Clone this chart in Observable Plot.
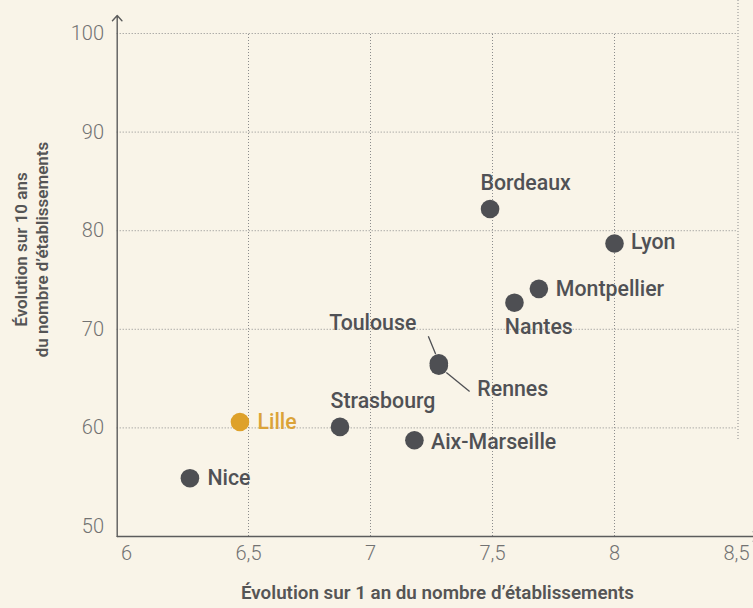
<!DOCTYPE html>
<html><head><meta charset="utf-8">
<script src="https://cdn.jsdelivr.net/npm/d3@7"></script>
<script src="https://cdn.jsdelivr.net/npm/@observablehq/plot@0.6"></script>
<style>
html,body{margin:0;padding:0;background:#f9f4e8;}
#chart svg{display:block;}
</style></head><body><div id="chart"></div>
<script>
// ---- data ----
const cities    = ["Nice", "Lille", "Strasbourg", "Aix-Marseille", "Toulouse", "Rennes", "Bordeaux", "Nantes", "Montpellier", "Lyon"];
const evol1an   = [6.26, 6.465, 6.875, 7.18, 7.28, 7.28, 7.49, 7.59, 7.69, 8.0];
const evol10ans = [54.9, 60.6, 60.1, 58.75, 66.55, 66.3, 82.2, 72.7, 74.1, 78.7];
const highlighted = ["Lille"];
const xTicks = [6, 6.5, 7, 7.5, 8, 8.5];
const yTicks = [50, 60, 70, 80, 90, 100];
const xGrid = [6.5, 7, 7.5, 8];
const yGrid = [60, 70, 80, 90, 100];
const xTitle = "Évolution sur 1 an du nombre d’établissements";
const yTitleLines = ["Évolution sur 10 ans", "du nombre d’établissements"];

// ---- layout ----
const W = 753, H = 608;
const xDomain = [6, 8.5], xRange = [126, 736];
const yDomain = [50, 100], yRange = [526, 33];
const X = d3.scaleLinear(xDomain, xRange), Y = d3.scaleLinear(yDomain, yRange);
const axisX0 = X.invert(116.7), axisY0 = Y.invert(536);
const gridRight = X.invert(737.5);

const labelLayout = {
  "Nice":          {anchor: "start", dx: 17.5, dy: 0},
  "Lille":         {anchor: "start", dx: 17.5, dy: 0},
  "Strasbourg":    {anchor: "start", dx: -9.5, dy: -26},
  "Aix-Marseille": {anchor: "start", dx: 16.6, dy: 1.7},
  "Toulouse":      {anchor: "end",   dx: -22.5, dy: -40.3},
  "Rennes":        {anchor: "start", dx: 38.5, dy: 23.6},
  "Bordeaux":      {anchor: "start", dx: -9.6, dy: -26},
  "Nantes":        {anchor: "start", dx: -9.6, dy: 24.6},
  "Montpellier":   {anchor: "start", dx: 17, dy: 0},
  "Lyon":          {anchor: "start", dx: 16.6, dy: -1.7}
};
const leaders = {
  "Toulouse": [-10.5, -27, -3.2, -9.3],
  "Rennes":   [7.5, 6.6, 30.8, 25.6]
};

const data = cities.map((c, i) => ({city: c, x: evol1an[i], y: evol10ans[i]}));
const leaderData = data.filter(d => leaders[d.city]).map(d => {
  const [a, b, c, e] = leaders[d.city];
  return {x1: X.invert(X(d.x) + a), y1: Y.invert(Y(d.y) + b), x2: X.invert(X(d.x) + c), y2: Y.invert(Y(d.y) + e)};
});

const GRAY = "#4e4f53", GOLD = "#dea12a", TXT = "#505155", TICK = "#727272", GRID = "#8c8c8c";
const fmt = d => String(d).replace(".", ",");

const labelMarks = data.map(d => {
  const L = labelLayout[d.city];
  const hi = highlighted.includes(d.city);
  return Plot.text([d], {x: "x", y: "y", text: "city", textAnchor: L.anchor, dx: L.dx, dy: L.dy,
    fill: hi ? "#dba338" : TXT, fontSize: 21.3, fontWeight: 500});
});

const chart = Plot.plot({
  width: W, height: H,
  marginTop: 0, marginRight: 0, marginBottom: 0, marginLeft: 0,
  x: {domain: xDomain, range: xRange, axis: null},
  y: {domain: yDomain, range: yRange, axis: null},
  style: {fontFamily: "Roboto, 'Noto Sans', sans-serif", background: "#f9f4e8", overflow: "visible"},
  marks: [
    Plot.ruleY(yGrid, {y: d => d, x1: axisX0, x2: gridRight, stroke: GRID, strokeDasharray: "1,2", strokeWidth: 1}),
    Plot.ruleX(xGrid, {x: d => d, y1: axisY0, y2: 100, stroke: GRID, strokeDasharray: "1,2", strokeWidth: 1}),
    Plot.ruleX([8.5], {x: gridRight, y1: Y.invert(439), y2: Y.invert(0), stroke: GRID, strokeDasharray: "1,2", strokeWidth: 1}),
    Plot.arrow([0], {x1: axisX0, y1: axisY0, x2: axisX0, y2: Y.invert(15), stroke: "#5c5c5c", strokeWidth: 1.4, headLength: 7.5, headAngle: 85}),
    Plot.arrow([0], {x1: axisX0, y1: axisY0, x2: X.invert(758), y2: axisY0, stroke: "#5c5c5c", strokeWidth: 1.4, headLength: 7.5, headAngle: 85}),
    Plot.text(xTicks, {x: d => d, frameAnchor: "bottom", dy: -49, text: fmt, fill: TICK, fontSize: 20, fontWeight: 300}),
    Plot.text(yTicks, {y: d => d, frameAnchor: "left", dx: 103.5, textAnchor: "end", text: fmt, fill: TICK, fontSize: 20, fontWeight: 300}),
    Plot.link(leaderData, {x1: "x1", y1: "y1", x2: "x2", y2: "y2", stroke: GRAY, strokeWidth: 1.3}),
    Plot.dot(data.filter(d => !highlighted.includes(d.city)), {x: "x", y: "y", r: 9.3, fill: GRAY, stroke: null}),
    Plot.dot(data.filter(d => highlighted.includes(d.city)), {x: "x", y: "y", r: 9.3, fill: GOLD, stroke: null}),
    ...labelMarks,
    Plot.text([xTitle], {frameAnchor: "bottom", dx: 60.5, dy: -9.5, textAnchor: "middle", fill: "#555", fontSize: 18.8, fontWeight: 600}),
    Plot.text([yTitleLines.join("\n")], {frameAnchor: "left", dx: 30, dy: -55, textAnchor: "middle", rotate: -90, lineHeight: 1.24, fill: "#555", fontSize: 17, fontWeight: 600})
  ]
});
document.getElementById("chart").appendChild(chart);
</script></body></html>
